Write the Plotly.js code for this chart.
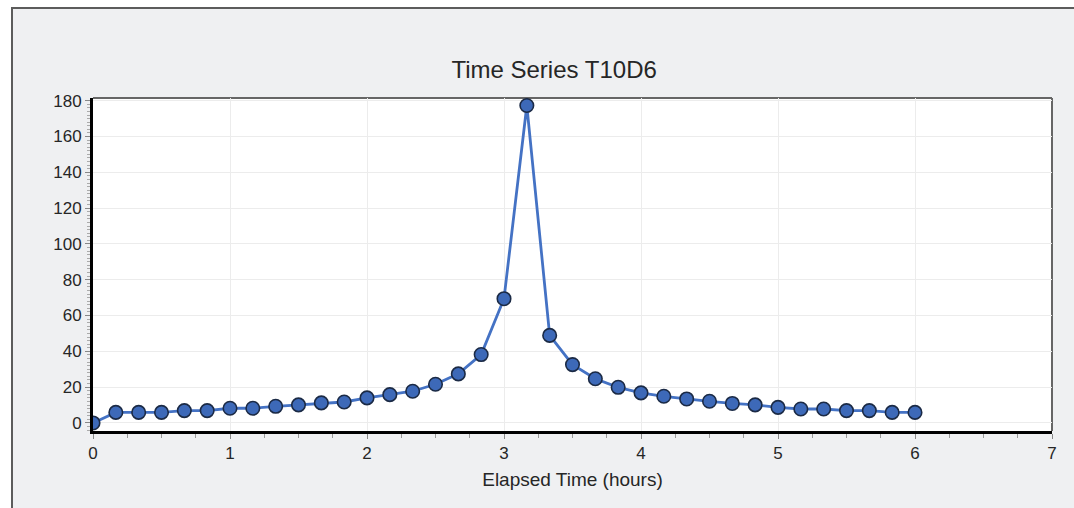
<!DOCTYPE html>
<html>
<head>
<meta charset="utf-8">
<script src="https://cdn.plot.ly/plotly-3.0.1.min.js"></script>
<style>
  html, body { margin: 0; padding: 0; background: #ffffff; width: 1074px; height: 508px; overflow: hidden; }
  #frame { position: absolute; left: 11px; top: 7px; width: 1063px; height: 501px;
           border-top: 2px solid #5c5c5c; border-left: 2px solid #5c5c5c; background: #eff0f2; }
  #chart { width: 1061px; height: 499px; }
</style>
</head>
<body>
<div id="frame"><div id="chart"></div></div>
<script>
// Elapsed time in hours (10-minute steps)
const hours = [0, 1/6, 2/6, 3/6, 4/6, 5/6, 1, 7/6, 8/6, 9/6, 10/6, 11/6, 2, 13/6, 14/6, 15/6, 16/6, 17/6, 3,
               19/6, 20/6, 21/6, 22/6, 23/6, 4, 25/6, 26/6, 27/6, 28/6, 29/6, 5, 31/6, 32/6, 33/6, 34/6, 35/6, 6];
const values = [0, 5.9, 5.9, 5.9, 6.9, 6.9, 8.2, 8.2, 9.3, 10.1, 11.2, 11.7, 14.0, 15.8, 17.7, 21.6, 27.4, 38.2, 69.4,
                177.3, 48.9, 32.6, 24.7, 19.9, 16.8, 14.9, 13.4, 12.1, 10.9, 10.1, 8.7, 7.8, 7.8, 6.9, 6.9, 5.9, 5.9];
const titleText = "Time Series T10D6";
const xTitle = "Elapsed Time (hours)";
const xTicks = [0, 1, 2, 3, 4, 5, 6, 7];
const yTicks = [0, 20, 40, 60, 80, 100, 120, 140, 160, 180];

const trace = {
  x: hours, y: values, type: 'scatter', mode: 'lines+markers',
  line: { color: '#4472c4', width: 2.8 },
  marker: { color: '#3d69b8', size: 13.5, line: { color: '#1b2a45', width: 1.6 } },
  hoverinfo: 'x+y'
};

const fontFam = '"Liberation Sans", Arial, sans-serif';
const layout = {
  width: 1061, height: 499,
  paper_bgcolor: '#eff0f2', plot_bgcolor: '#ffffff',
  margin: { l: 80, r: 22, t: 89, b: 77 },
  showlegend: false,
  font: { family: fontFam, color: '#262626', size: 17 },
  title: { text: titleText, font: { family: fontFam, size: 24, color: '#262626' },
           xref: 'container', x: 0.51, xanchor: 'center', yref: 'container', y: 0.878, yanchor: 'middle' },
  xaxis: {
    range: [0, 7], tickvals: xTicks, ticktext: xTicks.map(String),
    showline: true, linecolor: '#000000', linewidth: 3,
    ticks: 'outside', ticklen: 5, tickcolor: '#888888', tickwidth: 1,
    showgrid: true, gridcolor: '#ececec', gridwidth: 1, zeroline: false,
    minor: { dtick: 0.25, ticks: 'outside', ticklen: 4, tickcolor: '#999999', showgrid: false },
    tickfont: { size: 17, color: '#262626' },
    title: { text: xTitle, font: { size: 19, color: '#262626' }, standoff: 11 }
  },
  yaxis: {
    range: [-4.5, 181.5], tickvals: yTicks, ticktext: yTicks.map(String),
    showline: true, linecolor: '#000000', linewidth: 3,
    ticks: 'outside', ticklen: 5, tickcolor: '#888888', tickwidth: 1,
    showgrid: true, gridcolor: '#ececec', gridwidth: 1, zeroline: false,
    minor: { dtick: 2, ticks: 'outside', ticklen: 3, tickcolor: '#aaaaaa', showgrid: false },
    tickfont: { size: 17, color: '#262626' }
  },
  shapes: [
    { type: 'line', xref: 'paper', yref: 'paper', x0: 0, x1: 1, y0: 1, y1: 1, line: { color: '#666666', width: 2 }, layer: 'below' },
    { type: 'line', xref: 'paper', yref: 'paper', x0: 1, x1: 1, y0: 0, y1: 1, line: { color: '#666666', width: 2 }, layer: 'below' }
  ]
};

Plotly.newPlot('chart', [trace], layout, { displayModeBar: false, staticPlot: true });
</script>
</body>
</html>
